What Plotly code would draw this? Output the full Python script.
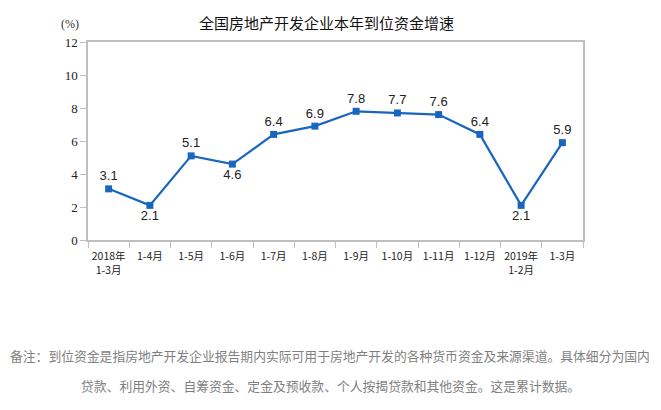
import plotly.graph_objects as go

categories = ["2018年<br>1-3月", "1-4月", "1-5月", "1-6月", "1-7月", "1-8月",
              "1-9月", "1-10月", "1-11月", "1-12月", "2019年<br>1-2月", "1-3月"]
values = [3.1, 2.1, 5.1, 4.6, 6.4, 6.9, 7.8, 7.7, 7.6, 6.4, 2.1, 5.9]
label_pos = ["top center", "bottom center", "top center", "bottom center", "top center",
             "top center", "top center", "top center", "top center", "top center",
             "bottom center", "top center"]

title_text = "全国房地产开发企业本年到位资金增速"
unit_text = "(%)"
note_line1 = "备注：到位资金是指房地产开发企业报告期内实际可用于房地产开发的各种货币资金及来源渠道。具体细分为国内"
note_line2 = "贷款、利用外资、自筹资金、定金及预收款、个人按揭贷款和其他资金。这是累计数据。"

CJK = "Noto Sans CJK SC"
line_color = "#1a66bf"
axis_color = "#bfbfbf"

fig = go.Figure()
fig.add_trace(go.Scatter(
    x=categories, y=values,
    mode="lines+markers+text",
    line=dict(color=line_color, width=2.2),
    marker=dict(symbol="square", size=7, color=line_color),
    text=[f"{v:.1f}" for v in values],
    textposition=label_pos,
    textfont=dict(family="Liberation Sans, Arial", size=13, color="#222222"),
    cliponaxis=False,
    showlegend=False,
    hoverinfo="x+y",
))

# page body has an 8px offset; compensate so the plot lands where the reference has it
OFF = 8
W, H = 661 - OFF, 410 - OFF
L, R, T, B = 88 - OFF, 78, 42 - OFF, 170
pw = W - L - R
ph = H - T - B

def px_x(px):
    return (px - OFF - L) / pw

def px_y(py):
    return (T + ph - (py - OFF)) / ph

fig.update_layout(
    width=W, height=H,
    margin=dict(l=L, r=R, t=T, b=B),
    paper_bgcolor="white",
    plot_bgcolor="white",
    font=dict(family=CJK, color="#222222"),
    xaxis=dict(
        type="category",
        automargin=False,
        showgrid=False,
        showline=True, linecolor=axis_color, linewidth=1.5, mirror=True,
        ticks="outside", tickson="boundaries", ticklen=6, tickcolor=axis_color,
        tickangle=0, ticklabelstandoff=6,
        tickfont=dict(family="Noto Sans CJK SC", size=10.5, color="#222222"),
        range=[-0.5, 11.5],
        fixedrange=True,
    ),
    yaxis=dict(
        automargin=False,
        range=[0, 12], dtick=2,
        showgrid=False, zeroline=False,
        showline=True, linecolor=axis_color, linewidth=1.5, mirror=True,
        ticks="outside", ticklen=6, tickcolor=axis_color,
        tickfont=dict(family="Liberation Serif, Times New Roman", size=13, color="#222222"),
        fixedrange=True,
    ),
    annotations=[
        dict(text=title_text, xref="paper", yref="paper",
             x=px_x(326), y=px_y(22), xanchor="center", yanchor="middle",
             showarrow=False, font=dict(family=CJK, size=15, color="#111111")),
        dict(text=unit_text, xref="paper", yref="paper",
             x=px_x(70), y=px_y(24), xanchor="center", yanchor="middle",
             showarrow=False, font=dict(family="Liberation Serif", size=12, color="#333333")),
        dict(text=note_line1, xref="paper", yref="paper",
             x=px_x(330), y=px_y(355), xanchor="center", yanchor="middle",
             showarrow=False, font=dict(family=CJK, size=12.8, color="#7f7f7f")),
        dict(text=note_line2, xref="paper", yref="paper",
             x=px_x(330), y=px_y(385), xanchor="center", yanchor="middle",
             showarrow=False, font=dict(family=CJK, size=12.8, color="#7f7f7f")),
    ],
)

fig.write_html("out.html")
